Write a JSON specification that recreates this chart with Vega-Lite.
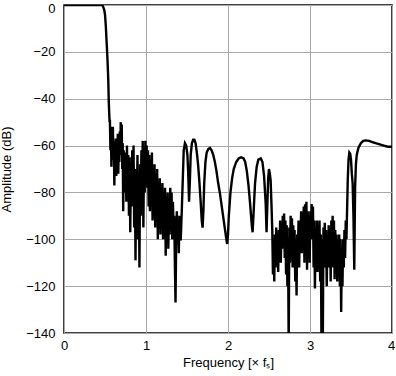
{
  "$schema": "https://vega.github.io/schema/vega-lite/v6.json",
  "width": 328,
  "height": 328,
  "autosize": {"type": "none"},
  "padding": {"left": 64, "top": 5, "right": 4, "bottom": 43},
  "background": "white",
  "config": {
    "view": {"stroke": "black", "strokeWidth": 1.5},
    "axis": {
      "domain": false,
      "ticks": false,
      "grid": true,
      "gridColor": "#a8a8a8",
      "gridWidth": 1,
      "labelFont": "Liberation Sans",
      "labelFontSize": 13,
      "labelColor": "black",
      "titleFont": "Liberation Sans",
      "titleFontSize": 13,
      "titleFontWeight": "normal",
      "titleColor": "black"
    }
  },
  "data": {
    "values": [
      {"f": 0.0, "db": 0}, {"f": 0.1, "db": 0}, {"f": 0.2, "db": 0}, {"f": 0.3, "db": 0}, {"f": 0.4, "db": 0}, {"f": 0.47, "db": 0},
      {"f": 0.48, "db": -1}, {"f": 0.49, "db": -2}, {"f": 0.5, "db": -4}, {"f": 0.51, "db": -9}, {"f": 0.52, "db": -16}, {"f": 0.53, "db": -23},
      {"f": 0.54, "db": -32}, {"f": 0.545, "db": -40}, {"f": 0.55, "db": -45}, {"f": 0.556, "db": -50},
      {"f": 0.56, "db": -49}, {"f": 0.566, "db": -62}, {"f": 0.572, "db": -52}, {"f": 0.578, "db": -69}, {"f": 0.584, "db": -55},
      {"f": 0.59, "db": -66}, {"f": 0.596, "db": -52}, {"f": 0.602, "db": -64}, {"f": 0.608, "db": -58}, {"f": 0.614, "db": -77},
      {"f": 0.62, "db": -60}, {"f": 0.626, "db": -70}, {"f": 0.632, "db": -57}, {"f": 0.638, "db": -73}, {"f": 0.644, "db": -62},
      {"f": 0.65, "db": -68}, {"f": 0.656, "db": -55}, {"f": 0.662, "db": -72}, {"f": 0.668, "db": -60}, {"f": 0.674, "db": -67},
      {"f": 0.68, "db": -54}, {"f": 0.686, "db": -62}, {"f": 0.692, "db": -50}, {"f": 0.698, "db": -64}, {"f": 0.704, "db": -51},
      {"f": 0.71, "db": -70}, {"f": 0.716, "db": -59}, {"f": 0.722, "db": -88}, {"f": 0.728, "db": -62}, {"f": 0.734, "db": -80},
      {"f": 0.74, "db": -66}, {"f": 0.746, "db": -78}, {"f": 0.752, "db": -63}, {"f": 0.76, "db": -84}, {"f": 0.768, "db": -60},
      {"f": 0.776, "db": -82}, {"f": 0.784, "db": -64}, {"f": 0.792, "db": -90}, {"f": 0.8, "db": -65}, {"f": 0.808, "db": -97},
      {"f": 0.816, "db": -70}, {"f": 0.824, "db": -86}, {"f": 0.832, "db": -62}, {"f": 0.84, "db": -78}, {"f": 0.848, "db": -60},
      {"f": 0.856, "db": -95}, {"f": 0.864, "db": -70}, {"f": 0.872, "db": -109}, {"f": 0.88, "db": -74}, {"f": 0.888, "db": -88},
      {"f": 0.896, "db": -64}, {"f": 0.904, "db": -100}, {"f": 0.912, "db": -75}, {"f": 0.92, "db": -112}, {"f": 0.928, "db": -68},
      {"f": 0.936, "db": -90}, {"f": 0.944, "db": -62}, {"f": 0.952, "db": -82}, {"f": 0.96, "db": -58}, {"f": 0.968, "db": -95},
      {"f": 0.976, "db": -62}, {"f": 0.984, "db": -80}, {"f": 0.992, "db": -58}, {"f": 1.0, "db": -72}, {"f": 1.008, "db": -60},
      {"f": 1.016, "db": -78}, {"f": 1.024, "db": -62}, {"f": 1.032, "db": -86}, {"f": 1.04, "db": -64}, {"f": 1.048, "db": -88},
      {"f": 1.056, "db": -66}, {"f": 1.064, "db": -80}, {"f": 1.072, "db": -63}, {"f": 1.08, "db": -92}, {"f": 1.088, "db": -70},
      {"f": 1.096, "db": -86}, {"f": 1.104, "db": -68}, {"f": 1.112, "db": -95}, {"f": 1.12, "db": -72}, {"f": 1.128, "db": -90},
      {"f": 1.136, "db": -70}, {"f": 1.144, "db": -100}, {"f": 1.152, "db": -76}, {"f": 1.16, "db": -92}, {"f": 1.168, "db": -74},
      {"f": 1.176, "db": -98}, {"f": 1.184, "db": -78}, {"f": 1.192, "db": -95}, {"f": 1.2, "db": -76}, {"f": 1.208, "db": -100},
      {"f": 1.216, "db": -80}, {"f": 1.224, "db": -96}, {"f": 1.232, "db": -78}, {"f": 1.24, "db": -107}, {"f": 1.248, "db": -82},
      {"f": 1.256, "db": -100}, {"f": 1.264, "db": -80}, {"f": 1.272, "db": -104}, {"f": 1.28, "db": -84}, {"f": 1.288, "db": -98},
      {"f": 1.296, "db": -78}, {"f": 1.304, "db": -94}, {"f": 1.312, "db": -80}, {"f": 1.32, "db": -100}, {"f": 1.328, "db": -84},
      {"f": 1.336, "db": -95}, {"f": 1.344, "db": -90}, {"f": 1.352, "db": -110}, {"f": 1.36, "db": -127}, {"f": 1.368, "db": -100},
      {"f": 1.376, "db": -88}, {"f": 1.384, "db": -102}, {"f": 1.392, "db": -92}, {"f": 1.4, "db": -106}, {"f": 1.408, "db": -90},
      {"f": 1.416, "db": -100}, {"f": 1.424, "db": -100}, {"f": 1.436, "db": -88}, {"f": 1.448, "db": -75}, {"f": 1.46, "db": -62},
      {"f": 1.475, "db": -59}, {"f": 1.49, "db": -60}, {"f": 1.505, "db": -64}, {"f": 1.515, "db": -72}, {"f": 1.525, "db": -84},
      {"f": 1.535, "db": -75}, {"f": 1.545, "db": -64}, {"f": 1.56, "db": -59}, {"f": 1.575, "db": -57.5}, {"f": 1.59, "db": -57.5},
      {"f": 1.605, "db": -59}, {"f": 1.62, "db": -63}, {"f": 1.635, "db": -68}, {"f": 1.65, "db": -75}, {"f": 1.665, "db": -83},
      {"f": 1.68, "db": -92}, {"f": 1.69, "db": -95}, {"f": 1.7, "db": -88}, {"f": 1.71, "db": -76}, {"f": 1.725, "db": -67},
      {"f": 1.74, "db": -63}, {"f": 1.76, "db": -61.5}, {"f": 1.78, "db": -61}, {"f": 1.8, "db": -62}, {"f": 1.82, "db": -64},
      {"f": 1.84, "db": -67}, {"f": 1.86, "db": -71}, {"f": 1.88, "db": -76}, {"f": 1.9, "db": -80}, {"f": 1.92, "db": -85},
      {"f": 1.94, "db": -90}, {"f": 1.96, "db": -95}, {"f": 1.98, "db": -100}, {"f": 1.99, "db": -102}, {"f": 2.0, "db": -98},
      {"f": 2.01, "db": -90}, {"f": 2.03, "db": -80}, {"f": 2.05, "db": -74}, {"f": 2.07, "db": -70}, {"f": 2.1, "db": -67},
      {"f": 2.13, "db": -65.5}, {"f": 2.16, "db": -65}, {"f": 2.19, "db": -65.5}, {"f": 2.21, "db": -67}, {"f": 2.23, "db": -71},
      {"f": 2.25, "db": -77}, {"f": 2.27, "db": -85}, {"f": 2.29, "db": -94}, {"f": 2.3, "db": -97}, {"f": 2.31, "db": -90},
      {"f": 2.33, "db": -76}, {"f": 2.35, "db": -69}, {"f": 2.37, "db": -66}, {"f": 2.4, "db": -65.5}, {"f": 2.42, "db": -67},
      {"f": 2.44, "db": -73}, {"f": 2.46, "db": -85}, {"f": 2.47, "db": -97}, {"f": 2.48, "db": -85}, {"f": 2.49, "db": -74},
      {"f": 2.5, "db": -70}, {"f": 2.51, "db": -72}, {"f": 2.52, "db": -75}, {"f": 2.53, "db": -85}, {"f": 2.54, "db": -96},
      {"f": 2.548, "db": -115}, {"f": 2.556, "db": -100}, {"f": 2.564, "db": -118}, {"f": 2.572, "db": -98}, {"f": 2.58, "db": -112},
      {"f": 2.588, "db": -95}, {"f": 2.596, "db": -108}, {"f": 2.604, "db": -100}, {"f": 2.612, "db": -114}, {"f": 2.62, "db": -96},
      {"f": 2.628, "db": -106}, {"f": 2.636, "db": -92}, {"f": 2.644, "db": -110}, {"f": 2.652, "db": -95}, {"f": 2.66, "db": -104},
      {"f": 2.668, "db": -90}, {"f": 2.676, "db": -100}, {"f": 2.684, "db": -89}, {"f": 2.692, "db": -108}, {"f": 2.7, "db": -92},
      {"f": 2.708, "db": -115}, {"f": 2.716, "db": -94}, {"f": 2.724, "db": -120}, {"f": 2.732, "db": -100}, {"f": 2.74, "db": -145},
      {"f": 2.748, "db": -95}, {"f": 2.756, "db": -110}, {"f": 2.764, "db": -90}, {"f": 2.772, "db": -104}, {"f": 2.78, "db": -91},
      {"f": 2.788, "db": -112}, {"f": 2.796, "db": -94}, {"f": 2.804, "db": -108}, {"f": 2.812, "db": -96}, {"f": 2.82, "db": -118},
      {"f": 2.828, "db": -100}, {"f": 2.836, "db": -124}, {"f": 2.844, "db": -98}, {"f": 2.852, "db": -108}, {"f": 2.86, "db": -92},
      {"f": 2.868, "db": -112}, {"f": 2.876, "db": -92}, {"f": 2.884, "db": -100}, {"f": 2.892, "db": -88}, {"f": 2.9, "db": -106},
      {"f": 2.908, "db": -90}, {"f": 2.916, "db": -98}, {"f": 2.924, "db": -86}, {"f": 2.932, "db": -110}, {"f": 2.94, "db": -85},
      {"f": 2.948, "db": -100}, {"f": 2.956, "db": -84}, {"f": 2.964, "db": -113}, {"f": 2.972, "db": -88}, {"f": 2.98, "db": -104},
      {"f": 2.988, "db": -90}, {"f": 2.996, "db": -110}, {"f": 3.004, "db": -88}, {"f": 3.012, "db": -100}, {"f": 3.02, "db": -85},
      {"f": 3.028, "db": -98}, {"f": 3.036, "db": -86}, {"f": 3.044, "db": -112}, {"f": 3.052, "db": -92}, {"f": 3.06, "db": -121},
      {"f": 3.068, "db": -96}, {"f": 3.076, "db": -108}, {"f": 3.084, "db": -92}, {"f": 3.092, "db": -114}, {"f": 3.1, "db": -94},
      {"f": 3.108, "db": -104}, {"f": 3.116, "db": -92}, {"f": 3.124, "db": -118}, {"f": 3.132, "db": -98}, {"f": 3.14, "db": -145},
      {"f": 3.148, "db": -100}, {"f": 3.156, "db": -145}, {"f": 3.164, "db": -95}, {"f": 3.172, "db": -112}, {"f": 3.18, "db": -93},
      {"f": 3.188, "db": -106}, {"f": 3.196, "db": -96}, {"f": 3.204, "db": -120}, {"f": 3.212, "db": -100}, {"f": 3.22, "db": -112},
      {"f": 3.228, "db": -94}, {"f": 3.236, "db": -108}, {"f": 3.244, "db": -96}, {"f": 3.252, "db": -118}, {"f": 3.26, "db": -92},
      {"f": 3.268, "db": -104}, {"f": 3.276, "db": -90}, {"f": 3.284, "db": -112}, {"f": 3.292, "db": -92}, {"f": 3.3, "db": -117},
      {"f": 3.308, "db": -96}, {"f": 3.316, "db": -110}, {"f": 3.324, "db": -98}, {"f": 3.332, "db": -118}, {"f": 3.34, "db": -100},
      {"f": 3.348, "db": -112}, {"f": 3.356, "db": -98}, {"f": 3.364, "db": -120}, {"f": 3.372, "db": -100}, {"f": 3.38, "db": -131},
      {"f": 3.388, "db": -105}, {"f": 3.396, "db": -120}, {"f": 3.404, "db": -100}, {"f": 3.412, "db": -112}, {"f": 3.42, "db": -96},
      {"f": 3.428, "db": -108}, {"f": 3.436, "db": -92}, {"f": 3.444, "db": -100}, {"f": 3.452, "db": -88}, {"f": 3.46, "db": -75},
      {"f": 3.47, "db": -66}, {"f": 3.48, "db": -63}, {"f": 3.49, "db": -63.5}, {"f": 3.5, "db": -66}, {"f": 3.51, "db": -72},
      {"f": 3.52, "db": -76}, {"f": 3.53, "db": -90}, {"f": 3.54, "db": -113}, {"f": 3.545, "db": -95}, {"f": 3.55, "db": -78},
      {"f": 3.56, "db": -68}, {"f": 3.57, "db": -64}, {"f": 3.59, "db": -61}, {"f": 3.62, "db": -59}, {"f": 3.65, "db": -58},
      {"f": 3.68, "db": -57.8}, {"f": 3.72, "db": -58}, {"f": 3.76, "db": -58.5}, {"f": 3.8, "db": -59}, {"f": 3.85, "db": -59.5},
      {"f": 3.9, "db": -60}, {"f": 3.95, "db": -60.5}, {"f": 4.0, "db": -60.5}
    ]
  },
  "mark": {"type": "line", "color": "black", "strokeWidth": 2.4, "clip": true, "strokeJoin": "miter"},
  "encoding": {
    "x": {
      "field": "f",
      "type": "quantitative",
      "scale": {"domain": [0, 4], "nice": false},
      "axis": {
        "values": [0, 1, 2, 3, 4],
        "labelFlush": false,
        "labelOffset": {"condition": {"test": "datum.value == 4", "value": -1}, "value": 0},
        "labelPadding": 6,
        "titlePadding": 4,
        "title": "Frequency [× fₛ]"
      }
    },
    "y": {
      "field": "db",
      "type": "quantitative",
      "scale": {"domain": [-140, 0], "nice": false},
      "axis": {
        "values": [-140, -120, -100, -80, -60, -40, -20, 0],
        "labelFlush": false,
        "labelOffset": {"condition": {"test": "datum.value == 0", "value": 3}, "value": 0},
        "labelPadding": 9,
        "titlePadding": 12,
        "title": "Amplitude (dB)"
      }
    }
  }
}
